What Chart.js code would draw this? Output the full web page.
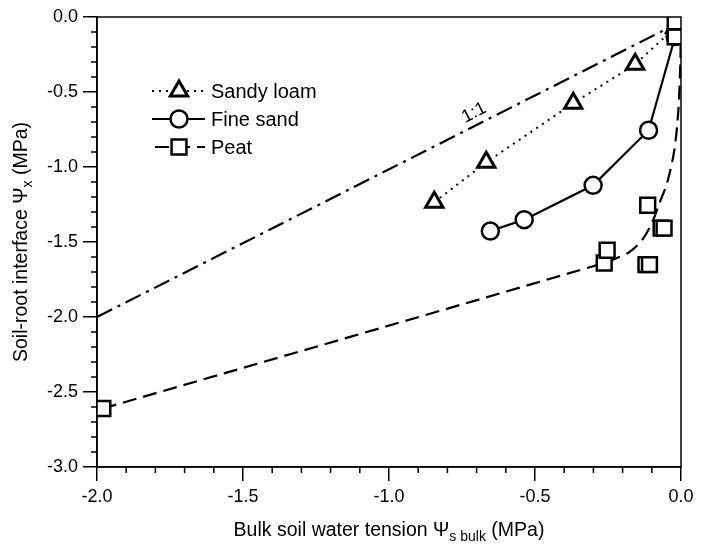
<!DOCTYPE html>
<html>
<head>
<meta charset="utf-8">
<script src="https://cdn.jsdelivr.net/npm/chart.js@4.4.0/dist/chart.umd.min.js"></script>
<style>
  html, body { margin: 0; padding: 0; background: #fff; }
</style>
</head>
<body>
<canvas id="chart" width="707" height="548"></canvas>
<script>
// values (MPa)
const sandyLoamX = [-0.845, -0.667, -0.369, -0.157, -0.02];
const sandyLoamY = [-1.235, -0.969, -0.575, -0.315, -0.07];

const fineSandX = [-0.653, -0.537, -0.301, -0.111, -0.02];
const fineSandY = [-1.427, -1.351, -1.122, -0.755, -0.13];

const peatX = [-1.98, -0.263, -0.253, -0.114, -0.068, -0.058, -0.12, -0.108, -0.02, -0.02];
const peatY = [-2.61, -1.64, -1.555, -1.255, -1.407, -1.407, -1.651, -1.651, -0.133, -0.033];

// hand drawn peat curve in the figure
const peatCurveX = [-1.98, -0.263, -0.223, -0.177, -0.134, -0.1, -0.074, -0.047, -0.023, -0.009, -0.002, -0.001];
const peatCurveY = [-2.61, -1.64, -1.61, -1.567, -1.489, -1.375, -1.242, -1.102, -0.889, -0.622, -0.289, -0.09];

// 1:1 reference line
const oneToOneX = [-2.0, -0.04];
const oneToOneY = [-2.0, -0.07];

const xTicks = [-2.0, -1.5, -1.0, -0.5, 0.0];
const yTicks = [0.0, -0.5, -1.0, -1.5, -2.0, -2.5, -3.0];

const FONT = "'Liberation Sans', Arial, Helvetica, sans-serif";

function pts(xs, ys) {
    return xs.map((x, i) => ({ x: x, y: ys[i] }));
}

function fmt(v) {
    const s = Number(v).toFixed(1);
    return s === "-0.0" ? "0.0" : s;
}

// draw one marker for the legend, same shapes as chart.js uses
function drawMarker(ctx, style, x, y, r, lw) {
    ctx.save();
    ctx.setLineDash([]);
    ctx.lineWidth = lw;
    ctx.strokeStyle = "#000";
    ctx.fillStyle = "#fff";
    ctx.beginPath();
    if (style == "triangle") {
        let a = -Math.PI / 2;
        ctx.moveTo(x + Math.cos(a) * r, y + Math.sin(a) * r);
        for (let k = 1; k < 3; k++) {
            a += (2 * Math.PI) / 3;
            ctx.lineTo(x + Math.cos(a) * r, y + Math.sin(a) * r);
        }
        ctx.closePath();
    } else if (style == "circle") {
        ctx.arc(x, y, r, 0, Math.PI * 2);
    } else {
        const s = r / Math.SQRT2;
        ctx.rect(x - s, y - s, 2 * s, 2 * s);
    }
    ctx.fill();
    ctx.stroke();
    ctx.restore();
}

// text with a subscript part
function drawParts(ctx, parts, x, y) {
    const big = "19.5px " + FONT;
    const small = "14px " + FONT;
    let total = 0;
    for (const p of parts) {
        ctx.font = p.sub ? small : big;
        total += ctx.measureText(p.t).width;
    }
    let cx = x - total / 2;
    ctx.textAlign = "left";
    ctx.textBaseline = "middle";
    for (const p of parts) {
        ctx.font = p.sub ? small : big;
        ctx.fillText(p.t, cx, p.sub ? y + 6 : y);
        cx += ctx.measureText(p.t).width;
    }
}

const legendItems = [
    { label: "Sandy loam", ds: 2 },
    { label: "Fine sand", ds: 1 },
    { label: "Peat", ds: 0, lineDs: 3 },
];

const framePlugin = {
    id: "frame",
    afterDraw(chart) {
        const ctx = chart.ctx;
        const a = chart.chartArea;
        const xs = chart.scales.x;
        const ys = chart.scales.y;
        ctx.save();
        ctx.strokeStyle = "#000";
        ctx.lineWidth = 1.5;
        ctx.strokeRect(a.left, a.top, a.right - a.left, a.bottom - a.top);

        // minor ticks every 0.1
        ctx.beginPath();
        for (let i = 0; i <= 20; i++) {
            if (i % 5 == 0) continue;
            const px = xs.getPixelForValue(-2 + i * 0.1);
            ctx.moveTo(px, a.bottom);
            ctx.lineTo(px, a.bottom + 6);
        }
        for (let i = 0; i <= 30; i++) {
            if (i % 5 == 0) continue;
            const py = ys.getPixelForValue(-i * 0.1);
            ctx.moveTo(a.left, py);
            ctx.lineTo(a.left - 6, py);
        }
        ctx.stroke();

        // axis titles
        ctx.fillStyle = "#000";
        drawParts(ctx, [
            { t: "Bulk soil water tension \u03A8" },
            { t: "s bulk", sub: true },
            { t: " (MPa)" },
        ], (a.left + a.right) / 2, 531);
        ctx.save();
        ctx.translate(22, (a.top + a.bottom) / 2);
        ctx.rotate(-Math.PI / 2);
        drawParts(ctx, [
            { t: "Soil-root interface \u03A8" },
            { t: "x", sub: true },
            { t: " (MPa)" },
        ], 0, 0);
        ctx.restore();

        // 1:1 label along the reference line
        const p1x = xs.getPixelForValue(oneToOneX[0]);
        const p1y = ys.getPixelForValue(oneToOneY[0]);
        const p2x = xs.getPixelForValue(oneToOneX[1]);
        const p2y = ys.getPixelForValue(oneToOneY[1]);
        const ang = Math.atan2(p2y - p1y, p2x - p1x);
        const ax = xs.getPixelForValue(-0.69);
        const ay = p1y + (ax - p1x) * Math.tan(ang);
        ctx.save();
        ctx.translate(ax + Math.sin(ang) * 12, ay - Math.cos(ang) * 12);
        ctx.rotate(ang);
        ctx.font = "18px " + FONT;
        ctx.textAlign = "center";
        ctx.textBaseline = "middle";
        ctx.fillText("1:1", 0, 0);
        ctx.restore();

        // legend
        const rows = [91, 119, 147];
        legendItems.forEach((item, k) => {
            const ds = chart.data.datasets[item.ds];
            const lineDs = chart.data.datasets[item.lineDs != undefined ? item.lineDs : item.ds];
            const y = rows[k];
            ctx.save();
            ctx.strokeStyle = "#000";
            ctx.lineWidth = lineDs.borderWidth;
            ctx.setLineDash(lineDs.borderDash || []);
            ctx.lineDashOffset = item.lineDs != undefined ? -3 : 0;
            ctx.beginPath();
            ctx.moveTo(152, y);
            ctx.lineTo(205, y);
            ctx.stroke();
            ctx.restore();
            drawMarker(ctx, ds.pointStyle, 179, y, ds.pointRadius, ds.pointBorderWidth);
            ctx.font = "20px " + FONT;
            ctx.fillStyle = "#000";
            ctx.textAlign = "left";
            ctx.textBaseline = "middle";
            ctx.fillText(item.label, 211, y + 1);
        });
        ctx.restore();
    },
};

const config = {
    type: "scatter",
    data: {
        datasets: [
            {
                label: "Peat",
                data: pts(peatX, peatY),
                showLine: false,
                pointStyle: "rect",
                pointRadius: 10.5,
                pointBorderWidth: 2.5,
                pointBorderColor: "#000",
                pointBackgroundColor: "#fff",
            },
            {
                label: "Fine sand",
                data: pts(fineSandX, fineSandY),
                showLine: true,
                borderColor: "#000",
                borderWidth: 2.2,
                pointStyle: "circle",
                pointRadius: 8.5,
                pointBorderWidth: 2.5,
                pointBorderColor: "#000",
                pointBackgroundColor: "#fff",
            },
            {
                label: "Sandy loam",
                data: pts(sandyLoamX, sandyLoamY),
                showLine: true,
                borderColor: "#000",
                borderWidth: 2,
                borderDash: [2, 5],
                pointStyle: "triangle",
                pointRadius: 10,
                pointBorderWidth: 3,
                pointBorderColor: "#000",
                pointBackgroundColor: "#fff",
            },
            {
                label: "Peat curve",
                data: pts(peatCurveX, peatCurveY),
                showLine: true,
                borderColor: "#000",
                borderWidth: 2.2,
                borderDash: [14, 7],
                tension: 0.3,
                pointRadius: 0,
            },
            {
                label: "1:1",
                data: pts(oneToOneX, oneToOneY),
                showLine: true,
                borderColor: "#000",
                borderWidth: 2.2,
                borderDash: [17, 6, 3, 6],
                pointRadius: 0,
            },
        ],
    },
    options: {
        responsive: false,
        animation: false,
        events: [],
        layout: { padding: { top: 17, right: 26, left: 0, bottom: 0 } },
        plugins: {
            legend: { display: false },
            tooltip: { enabled: false },
        },
        scales: {
            x: {
                type: "linear",
                min: -2,
                max: 0,
                afterBuildTicks: (s) => { s.ticks = xTicks.map((v) => ({ value: v })); },
                ticks: {
                    callback: (v) => fmt(v),
                    color: "#000",
                    font: { size: 18, family: FONT },
                    padding: 5,
                    maxRotation: 0,
                    autoSkip: false,
                },
                grid: { drawOnChartArea: false, tickLength: 14, color: "#000", lineWidth: 1.5 },
                border: { display: true, color: "#000", width: 1.5 },
                afterFit: (s) => { s.height = 81; },
            },
            y: {
                type: "linear",
                min: -3,
                max: 0,
                afterBuildTicks: (s) => { s.ticks = yTicks.map((v) => ({ value: v })); },
                ticks: {
                    callback: (v) => fmt(v),
                    color: "#000",
                    font: { size: 18, family: FONT },
                    padding: 5,
                    autoSkip: false,
                },
                grid: { drawOnChartArea: false, tickLength: 14, color: "#000", lineWidth: 1.5 },
                border: { display: true, color: "#000", width: 1.5 },
                afterFit: (s) => { s.width = 97; },
            },
        },
    },
    plugins: [framePlugin],
};

new Chart(document.getElementById("chart"), config);
</script>
</body>
</html>
